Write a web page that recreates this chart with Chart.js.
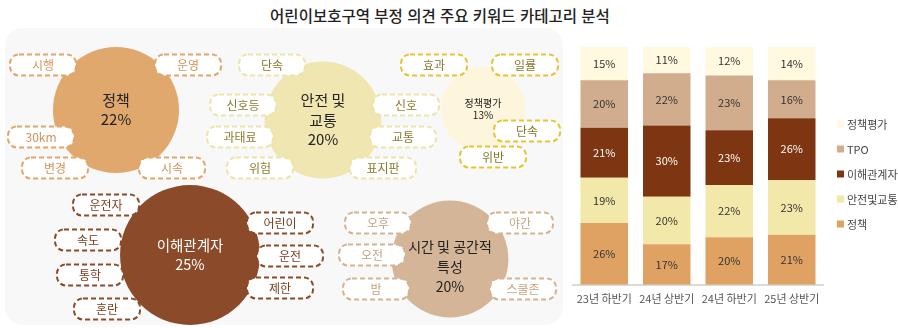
<!DOCTYPE html>
<html lang="ko">
<head>
<meta charset="utf-8">
<script src="https://cdn.jsdelivr.net/npm/chart.js@4/dist/chart.umd.min.js"></script>
<style>
  html, body { margin: 0; padding: 0; background: #fff; width: 898px; height: 328px; overflow: hidden; }
  #title { position: absolute; left: 0; top: 4px; width: 880px; text-align: center;
           font: 500 15.5px "Noto Sans CJK KR", "Noto Sans", sans-serif; color: #222; }
  #panel { position: absolute; left: 5px; top: 28px; width: 558px; height: 297px;
           border-radius: 18px; background: #f8f8f8; }
  #topics { position: absolute; left: 0; top: 0; }
  #trend { position: absolute; left: 560px; top: 0; }
</style>
</head>
<body>
<div id="title">어린이보호구역 부정 의견 주요 키워드 카테고리 분석</div>
<div id="panel"></div>
<canvas id="topics" width="570" height="328"></canvas>
<canvas id="trend" width="338" height="328"></canvas>

<script>
// ---- keyword categories (bubbles) ----
const topicNames = [['정책'], ['안전 및', '교통'], ['정책평가'], ['이해관계자'], ['시간 및 공간적', '특성']];
const topicShares = [22, 20, 13, 25, 20];
const topicKeywords = [
  ['시행', '운영', '30km', '변경', '시속'],
  ['단속', '신호등', '과태료', '위험', '신호', '교통', '표지판'],
  ['효과', '일률', '단속', '위반'],
  ['운전자', '속도', '통학', '혼란', '어린이', '운전', '제한'],
  ['오후', '오전', '밤', '야간', '스쿨존']
];

// ---- half-year trend (stacked bars) ----
const periods = ['23년 하반기', '24년 상반기', '24년 하반기', '25년 상반기'];
const seriesNames = ['정책', '안전및교통', '이해관계자', 'TPO', '정책평가'];
const policyShare = [26, 17, 20, 21];
const safetyShare = [19, 20, 22, 23];
const stakeholderShare = [21, 30, 23, 26];
const tpoShare = [20, 22, 23, 16];
const evaluationShare = [15, 11, 12, 14];

// ---- layout & styling ----
const FONT = '"Noto Sans CJK KR", "Noto Sans", sans-serif';
const topicLayout = [
  { x: 116, y: 110, fill: '#e0a86d', line: '#e0a66a', ink: '#d3925a', text: '#222', size: 15, lh: 19, dy: 0,
    keys: [[43, 65], [188, 65], [41, 137], [55, 168], [172, 168]] },
  { x: 323, y: 120, fill: '#efe6b1', line: '#eee3a8', ink: '#8a7b2c', text: '#222', size: 15, lh: 19.5, dy: 0,
    keys: [[272, 65], [243, 105], [240, 137], [260, 168], [406, 105], [403, 137], [383, 168]] },
  { x: 483, y: 109, fill: '#fdf6dc', line: '#e5c332', ink: '#857628', text: '#222', size: 10, lh: 12, dy: 0,
    keys: [[434, 65], [525, 65], [527, 131], [493, 157]] },
  { x: 190, y: 255, fill: '#8b4b2b', line: '#8b4a2a', ink: '#7a3c1f', text: '#fff', size: 14.5, lh: 18.5, dy: 0,
    keys: [[106, 205], [88, 240], [90, 275], [107, 309], [280, 223], [290, 256], [280, 288]] },
  { x: 450, y: 259, fill: '#d5b597', line: '#d3b394', ink: '#c4a383', text: '#222', size: 14, lh: 20, dy: 8,
    keys: [[378, 223], [372, 255], [376, 289], [520, 223], [523, 289]] }
];
const PILL_W = 66, PILL_H = 21;

// bubble radius grows with the category share
function bubbleRadius(share) { return 12.2 + 2.31 * share; }

function roundRectPath(ctx, x, y, w, h, r) {
  ctx.beginPath();
  ctx.moveTo(x + r, y);
  ctx.lineTo(x + w - r, y);
  ctx.arcTo(x + w, y, x + w, y + r, r);
  ctx.lineTo(x + w, y + h - r);
  ctx.arcTo(x + w, y + h, x + w - r, y + h, r);
  ctx.lineTo(x + r, y + h);
  ctx.arcTo(x, y + h, x, y + h - r, r);
  ctx.lineTo(x, y + r);
  ctx.arcTo(x, y, x + r, y, r);
  ctx.closePath();
}

// keyword pills around each bubble, then the bubble captions
const topicLabels = {
  id: 'topicLabels',
  afterDatasetsDraw(chart) {
    const { ctx, scales: { x, y } } = chart;
    ctx.save();
    topicLayout.forEach((t, i) => {
      topicKeywords[i].forEach((word, k) => {
        const px = x.getPixelForValue(t.keys[k][0]);
        const py = y.getPixelForValue(t.keys[k][1]);
        roundRectPath(ctx, px - PILL_W / 2, py - PILL_H / 2, PILL_W, PILL_H, 9);
        ctx.fillStyle = '#fff';
        ctx.fill();
        ctx.setLineDash([5, 3]);
        ctx.lineWidth = 2;
        ctx.strokeStyle = t.line;
        ctx.stroke();
        ctx.setLineDash([]);
        ctx.fillStyle = t.ink;
        ctx.font = '12px ' + FONT;
        ctx.textAlign = 'center';
        ctx.textBaseline = 'middle';
        ctx.fillText(word, px, py + 0.5);
      });
    });
    const meta = chart.getDatasetMeta(0);
    topicLayout.forEach((t, i) => {
      const pt = meta.data[i];
      const lines = topicNames[i].concat([topicShares[i] + '%']);
      ctx.fillStyle = t.text;
      ctx.font = t.size + 'px ' + FONT;
      ctx.textAlign = 'center';
      ctx.textBaseline = 'middle';
      const top = pt.y + t.dy - (lines.length - 1) * t.lh / 2;
      lines.forEach((ln, j) => ctx.fillText(ln, pt.x, top + j * t.lh));
    });
    ctx.restore();
  }
};

new Chart(document.getElementById('topics'), {
  type: 'bubble',
  data: {
    datasets: [{
      data: topicShares.map((s, i) => ({ x: topicLayout[i].x, y: topicLayout[i].y, r: bubbleRadius(s) })),
      backgroundColor: topicLayout.map(t => t.fill),
      borderWidth: 0,
      hoverRadius: 0,
      clip: false
    }]
  },
  options: {
    responsive: false,
    animation: false,
    events: [],
    layout: { padding: 0, autoPadding: false },
    plugins: { legend: { display: false }, tooltip: { enabled: false } },
    scales: {
      x: { type: 'linear', min: 0, max: 570, display: false },
      y: { type: 'linear', min: 0, max: 328, reverse: true, display: false }
    }
  },
  plugins: [topicLabels]
});

// ---- stacked bar chart ----
const seriesValues = [policyShare, safetyShare, stakeholderShare, tpoShare, evaluationShare];
const seriesColors = ['#dfa262', '#f1e8aa', '#7d3512', '#d1ad8d', '#fef9df'];
const seriesInk = ['#333', '#333', '#fff', '#333', '#333'];

const barLabels = {
  id: 'barLabels',
  afterDatasetsDraw(chart) {
    const { ctx, chartArea } = chart;
    ctx.save();
    ctx.font = '11px ' + FONT;
    ctx.textAlign = 'center';
    ctx.textBaseline = 'middle';
    chart.data.datasets.forEach((ds, di) => {
      chart.getDatasetMeta(di).data.forEach((bar, i) => {
        const top = Math.max(bar.y, chartArea.top);
        ctx.fillStyle = seriesInk[di];
        ctx.fillText(ds.data[i] + '%', bar.x, (top + bar.base) / 2);
      });
    });
    // legend, top item = top of the stack
    const lx = chartArea.right + 14;
    for (let k = 0; k < seriesNames.length; k++) {
      const di = seriesNames.length - 1 - k;
      const ly = chartArea.top + 77 + k * 25;
      ctx.fillStyle = seriesColors[di];
      ctx.fillRect(lx, ly - 3.5, 7, 7);
      ctx.fillStyle = '#444';
      ctx.textAlign = 'left';
      ctx.fillText(seriesNames[di], lx + 10, ly + 0.5);
    }
    ctx.restore();
  }
};

new Chart(document.getElementById('trend'), {
  type: 'bar',
  data: {
    labels: periods,
    datasets: seriesNames.map((name, i) => ({
      label: name,
      data: seriesValues[i],
      backgroundColor: seriesColors[i],
      borderWidth: 0,
      categoryPercentage: 1,
      barPercentage: 0.76,
      clip: 0
    }))
  },
  options: {
    responsive: false,
    animation: false,
    events: [],
    layout: { padding: { left: 13, right: 75, top: 47, bottom: 16 } },
    plugins: { legend: { display: false }, tooltip: { enabled: false } },
    scales: {
      x: {
        stacked: true,
        grid: { display: false, drawTicks: false },
        border: { display: true, color: '#dadada', width: 2 },
        ticks: { color: '#555', font: { family: FONT, size: 11 }, padding: 7 }
      },
      y: { stacked: true, min: 0, max: 100, display: false }
    }
  },
  plugins: [barLabels]
});
</script>
</body>
</html>
